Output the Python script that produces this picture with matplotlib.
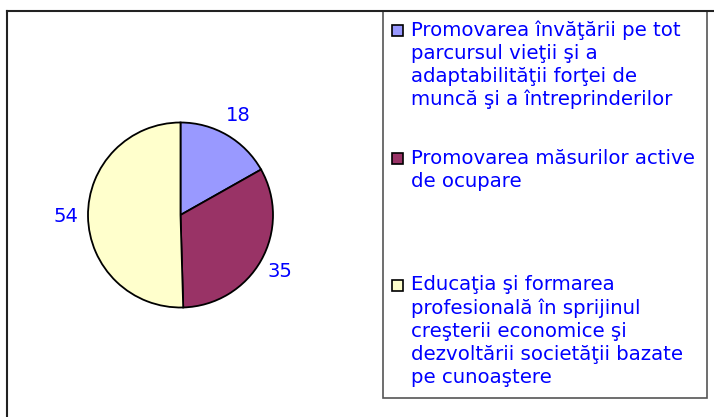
import matplotlib
matplotlib.use("Agg")
import matplotlib.pyplot as plt
from matplotlib.patches import Rectangle
from matplotlib.lines import Line2D

# Data
categories = [
    "Promovarea învăţării pe tot\nparcursul vieţii şi a\nadaptabilităţii forţei de\nmuncă şi a întreprinderilor",
    "Promovarea măsurilor active\nde ocupare",
    "Educaţia şi formarea\nprofesională în sprijinul\ncreşterii economice şi\ndezvoltării societăţii bazate\npe cunoaştere",
]
values = [18, 35, 54]
colors = ["#9999FF", "#993366", "#FFFFCC"]

W, H = 714, 417
fig = plt.figure(figsize=(W / 100, H / 100), dpi=100)
fig.patch.set_facecolor("white")


def fx(px):
    return px / W


def fy(py):
    return 1 - py / H


# Pie axes: centre (180.5, 215), radius 92.5 px
cx, cy, r = 180.5, 215.0, 92.5
ax = fig.add_axes([fx(cx - r), fy(cy + r), 2 * r / W, 2 * r / H])
total = sum(values)
wedges, _, autotexts = ax.pie(
    values,
    colors=colors,
    startangle=90,
    counterclock=False,
    radius=1.0,
    autopct=lambda p: f"{round(p * total / 100)}",
    pctdistance=1.24,
    wedgeprops=dict(edgecolor="black", linewidth=1.3),
    textprops=dict(color="#0000FF", fontsize=14, family="DejaVu Sans"),
)
ax.set_xlim(-1, 1)
ax.set_ylim(-1, 1)
ax.set_aspect("auto")
ax.axis("off")
for t in autotexts:
    t.set_clip_on(False)

# Outer chart frame (top and left edges visible)
fig.add_artist(Line2D([fx(7), fx(W)], [fy(11), fy(11)], color="#222222", lw=1.5))
fig.add_artist(Line2D([fx(7), fx(7)], [fy(11), fy(H)], color="#222222", lw=1.5))

# Legend box
fig.add_artist(Rectangle((fx(383), fy(398)), fx(707) - fx(383), fy(11) - fy(398),
                         transform=fig.transFigure, facecolor="none",
                         edgecolor="#555555", lw=1.2))

# Legend entries
first_line_y = [30, 158, 285]
line_step = 23.2
for label, color, y0 in zip(categories, colors, first_line_y):
    fig.add_artist(Rectangle((fx(392), fy(y0 + 5.5)), 11 / W, 11 / H,
                             transform=fig.transFigure, facecolor=color,
                             edgecolor="black", lw=1.2))
    for i, line in enumerate(label.split("\n")):
        fig.text(fx(411), fy(y0 + i * line_step), line, color="#0000FF",
                 fontsize=14.2, family="DejaVu Sans", ha="left", va="center")

fig.savefig("out.png", dpi=100)
